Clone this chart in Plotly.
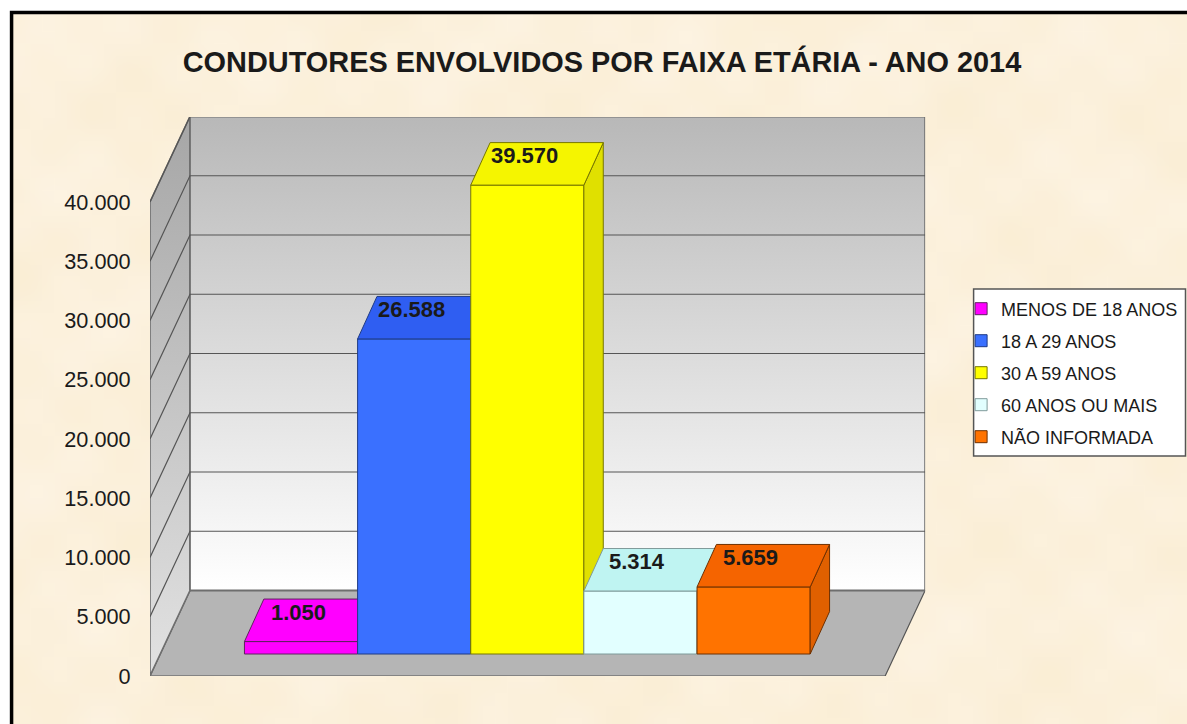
import math, zlib, struct, base64
import plotly.graph_objects as go

# ---- data ----
TITLE = "CONDUTORES ENVOLVIDOS POR FAIXA ETÁRIA - ANO 2014"
categories = ["MENOS DE 18 ANOS", "18 A 29 ANOS", "30 A 59 ANOS", "60 ANOS OU MAIS", "NÃO INFORMADA"]
values = [1050, 26588, 39570, 5314, 5659]
y_ticks = [0, 5000, 10000, 15000, 20000, 25000, 30000, 35000, 40000]
front_colors = ["#FF00FF", "#3A70FF", "#FFFF00", "#E2FFFF", "#FF7300"]
top_colors = ["#FF00FF", "#2F5EF2", "#F5F500", "#BFF4F2", "#F56400"]
side_colors = ["#E000E0", "#2A55D8", "#E0E000", "#B0E0E0", "#E06000"]
edge_colors = ["#602060", "#1F3B85", "#777700", "#7F9A9A", "#6E3000"]

# ---- geometry of the oblique projection (in figure pixels) ----
W, H = 1187, 724
L, R, T, B = 149.5, 925.0, 117.0, 676.0      # plot window
PX_PER_CAT = 113.2
PX_PER_VAL = (676 - 202) / 40000
X0_PX = 300.6                                # centre of first bar
WALL_DX, WALL_DY = 40.0, 85.5                # total depth of the chart box
BAR_DX, BAR_DY = 19.4, 42.5                  # depth of a bar
BASE_PX = 22.0                               # floor lift of the bar front plane
FRONT_R_PX = 885.0

x_range = [(L - X0_PX) / PX_PER_CAT, (R - X0_PX) / PX_PER_CAT]
y_top = (B - T) / PX_PER_VAL
y_range = [0, y_top]
lift = BASE_PX / PX_PER_VAL
bar_y_range = [-lift, y_top - lift]


def cx(px):
    return (px - X0_PX) / PX_PER_CAT


def px_w(d):
    return d / PX_PER_CAT


def px_h(d):
    return d / PX_PER_VAL


def xp(px):
    return (px - L) / (W - L)


def yp(py):
    return (B - py) / (B - T)


# ---- faint parchment texture -----
def texture_png(w=96, h=58):
    rows = b""
    for j in range(h):
        row = bytearray([0])
        for i in range(w):
            n = (math.sin(i * 0.37 + 1.3 * math.sin(j * 0.21)) +
                 math.sin(j * 0.53 + 1.1 * math.sin(i * 0.17)) +
                 0.7 * math.sin((i + j) * 0.81) + 0.6 * math.sin((i - j) * 0.97)) / 3.3
            row += bytes([int(252 + 1.5 * n), int(241 + 3 * n), int(220 + 7 * n)])
        rows += bytes(row)

    def chunk(t, d):
        c = struct.pack(">I", len(d)) + t + d
        return c + struct.pack(">I", zlib.crc32(t + d) & 0xFFFFFFFF)

    png = b"\x89PNG\r\n\x1a\n" + chunk(b"IHDR", struct.pack(">IIBBBBB", w, h, 8, 2, 0, 0, 0)) + \
        chunk(b"IDAT", zlib.compress(rows)) + chunk(b"IEND", b"")
    return "data:image/png;base64," + base64.b64encode(png).decode()


fig = go.Figure()
wall_top = y_ticks[-1]
dxw, dyw = px_w(WALL_DX), px_h(WALL_DY)
xl, xfr = cx(L), cx(FRONT_R_PX)
edge = "#6E6E6E"

# floor
fig.add_trace(go.Scatter(
    x=[xl, xl + dxw, cx(R), xfr, xl], y=[0, dyw, dyw, 0, 0],
    mode="lines", fill="toself", fillcolor="#B5B5B5", line=dict(color="#555555", width=1.2),
    hoverinfo="skip", showlegend=False))
# left wall
fig.add_trace(go.Scatter(
    x=[xl, xl, xl + dxw, xl + dxw, xl], y=[0, wall_top, wall_top + dyw, dyw, 0],
    mode="lines", fill="toself",
    fillgradient=dict(type="vertical", colorscale=[[0, "#E2E2E2"], [1, "#A6A6A6"]],
                      start=0, stop=wall_top + dyw),
    line=dict(color=edge, width=1.6), hoverinfo="skip", showlegend=False))
# back wall
fig.add_trace(go.Scatter(
    x=[xl + dxw, xl + dxw, cx(R), cx(R), xl + dxw], y=[dyw, wall_top + dyw, wall_top + dyw, dyw, dyw],
    mode="lines", fill="toself",
    fillgradient=dict(type="vertical", colorscale=[[0, "#FFFFFF"], [1, "#B8B8B8"]],
                      start=dyw, stop=wall_top + dyw),
    line=dict(color=edge, width=1.8), hoverinfo="skip", showlegend=False))
# grid lines (side wall and back wall)
gx, gy = [], []
for v in y_ticks[1:]:
    gx += [xl, xl + dxw, cx(R), None]
    gy += [v, v + dyw, v + dyw, None]
fig.add_trace(go.Scatter(x=gx, y=gy, mode="lines", line=dict(color="#555555", width=1.2),
                         hoverinfo="skip", showlegend=False))

# bars: every bar sits on its own overlay axis so they paint left to right
dxb, dyb = px_w(BAR_DX), px_h(BAR_DY)
annotations = []
for i, (c, v) in enumerate(zip(categories, values)):
    ya = f"y{i + 2}"
    fig.add_trace(go.Bar(
        x=[i], y=[v], width=[1], name=c, yaxis=ya, legendgroup=c,
        marker=dict(color=front_colors[i], line=dict(color=edge_colors[i], width=1)),
        hovertemplate=c + ": %{y}<extra></extra>"))
    xa, xb = i - 0.5, i + 0.5
    fig.add_trace(go.Scatter(
        x=[xb, xb + dxb, xb + dxb, xb, xb], y=[0, dyb, v + dyb, v, 0], yaxis=ya,
        mode="lines", fill="toself", fillcolor=side_colors[i],
        line=dict(color=edge_colors[i], width=1), hoverinfo="skip", showlegend=False))
    fig.add_trace(go.Scatter(
        x=[xa, xa + dxb, xb + dxb, xb, xa], y=[v, v + dyb, v + dyb, v, v], yaxis=ya,
        mode="lines", fill="toself", fillcolor=top_colors[i],
        line=dict(color=edge_colors[i], width=1), hoverinfo="skip", showlegend=False))
    annotations.append(dict(
        x=i, y=v, xref="x", yref=ya, xshift=-3, yshift=29.5, showarrow=False,
        text=f"{v:,}".replace(",", "."), xanchor="center", yanchor="middle",
        font=dict(family="Liberation Sans", size=22, color="#1A1A1A", weight="bold")))

layout_axes = {}
for i in range(len(values)):
    layout_axes[f"yaxis{i + 2}"] = dict(overlaying="y", range=bar_y_range, visible=False, fixedrange=True)

fig.update_layout(
    width=W, height=H, autosize=False,
    margin=dict(l=L, r=0, t=T, b=H - B, pad=0),
    paper_bgcolor="#FFFFFF", plot_bgcolor="rgba(0,0,0,0)",
    separators=",.",
    barmode="overlay",
    font=dict(family="Liberation Sans", color="#1A1A1A"),
    title=dict(text="<b>" + TITLE + "</b>", x=602 / W, xanchor="center", xref="container",
               y=1 - 62 / H, yanchor="middle", yref="container",
               font=dict(family="Liberation Sans", size=28.9, color="#1A1A1A")),
    xaxis=dict(domain=[0, (R - L) / (W - L)], range=x_range, visible=False, fixedrange=True),
    yaxis=dict(range=y_range, tickmode="array", tickvals=y_ticks, tickformat=",d",
               showgrid=False, zeroline=False, showline=False, ticks="outside", ticklen=14,
               tickcolor="rgba(0,0,0,0)", tickfont=dict(family="Liberation Sans", size=21.7, color="#1A1A1A"),
               fixedrange=True),
    legend=dict(x=xp(967), y=yp(290.5), xanchor="left", yanchor="top",
                bgcolor="rgba(0,0,0,0)", borderwidth=0,
                font=dict(family="Liberation Sans", size=18, color="#1A1A1A"),
                traceorder="grouped", tracegroupgap=5.6, indentation=-6, itemclick=False, itemdoubleclick=False),
    annotations=annotations,
    images=[dict(source=texture_png(), xref="paper", yref="paper", x=xp(11), y=yp(12.5),
                 sizex=xp(W) - xp(11), sizey=yp(12.5) - yp(H), sizing="stretch",
                 xanchor="left", yanchor="top", layer="below")],
    shapes=[dict(type="rect", xref="paper", yref="paper", x0=xp(11), x1=xp(W + 20),
                 y0=yp(H + 20), y1=yp(12.5), line=dict(color="#000000", width=3.5),
                 fillcolor="rgba(0,0,0,0)", layer="below"),
            dict(type="rect", xref="paper", yref="paper", x0=xp(973.5), x1=xp(1185.5),
                 y0=yp(456), y1=yp(289), line=dict(color="#555555", width=1.5),
                 fillcolor="#FFFFFF", layer="below")],
    **layout_axes,
)
fig.write_html("out.html", config=dict(displayModeBar=False),
               post_script="document.body.style.margin='0';document.body.style.overflow='hidden';")
